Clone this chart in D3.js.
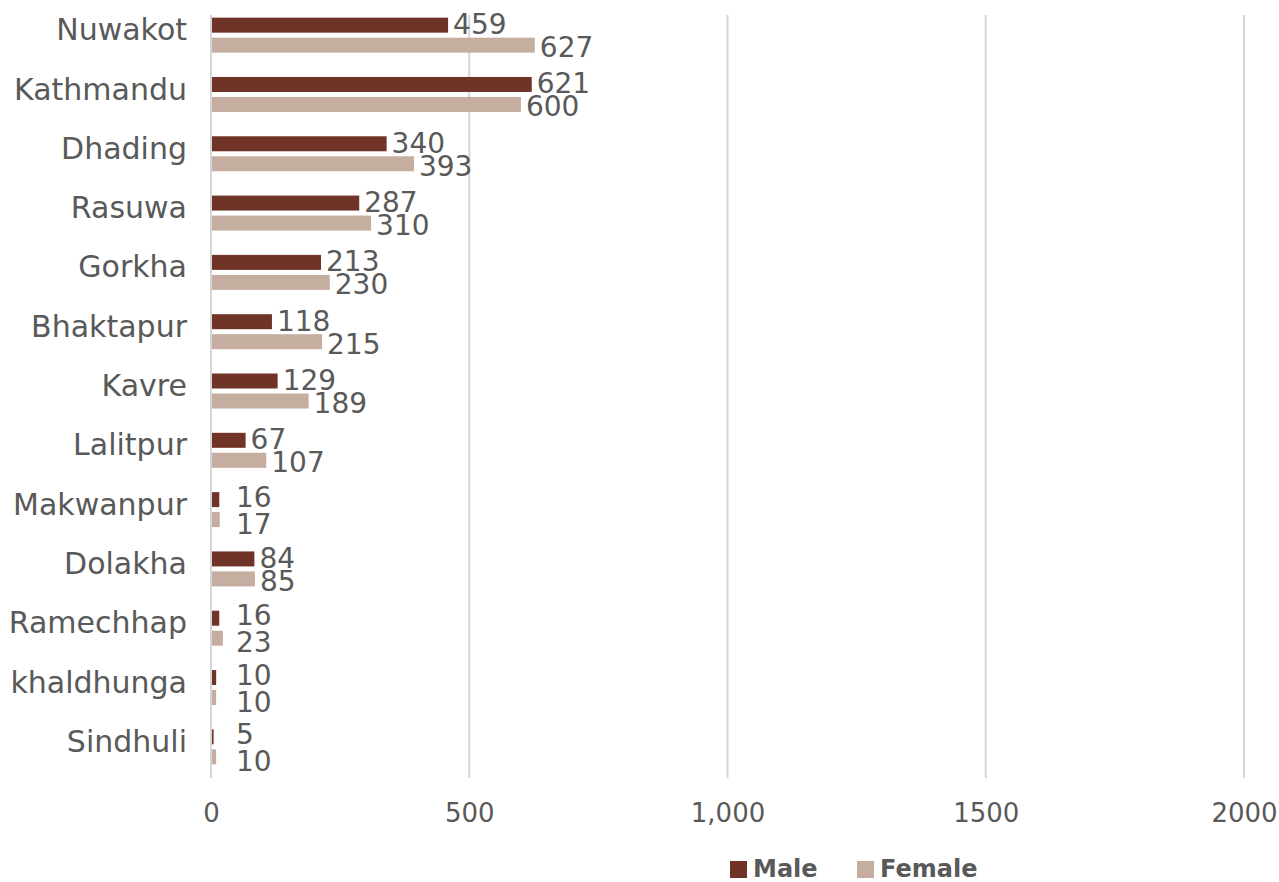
<!DOCTYPE html>
<html>
<head>
<meta charset="utf-8">
<script src="https://cdn.jsdelivr.net/npm/d3@7"></script>
<style>
  html, body { margin: 0; padding: 0; background: #ffffff; }
  svg { display: block; }
</style>
</head>
<body>
<svg id="chart" width="1279" height="882"></svg>
<script>
const categories = ["Nuwakot","Kathmandu","Dhading","Rasuwa","Gorkha","Bhaktapur","Kavre","Lalitpur","Makwanpur","Dolakha","Ramechhap","khaldhunga","Sindhuli"];
const maleValues   = [459, 621, 340, 287, 213, 118, 129, 67, 16, 84, 16, 10, 5];
const femaleValues = [627, 600, 393, 310, 230, 215, 189, 107, 17, 85, 23, 10, 10];
const seriesNames = ["Male", "Female"];
const tickValues = [0, 500, 1000, 1500, 2000];
const tickLabels = ["0", "500", "1,000", "1500", "2000"];

const colors = { Male: "#6f3327", Female: "#c5ae9f" };
const textColor = "#595959";
const gridColor = "#d6d6d6";
const fontFamily = "'DejaVu Sans', sans-serif";

const svg = d3.select("#chart");

const x = d3.scaleLinear().domain([0, 2000]).range([211, 1244]);
const y = d3.scaleBand().domain(categories).range([5.5, 776.5]).paddingInner(0.41).paddingOuter(0.205);
const ySub = d3.scaleBand().domain(seriesNames).range([0, y.bandwidth()]).paddingInner(0.25);

const rows = categories.map((c, i) => ({ cat: c, Male: maleValues[i], Female: femaleValues[i] }));

// gridlines
svg.append("g").selectAll("line").data(tickValues).join("line")
  .attr("x1", d => x(d)).attr("x2", d => x(d))
  .attr("y1", 15).attr("y2", 778)
  .attr("stroke", gridColor).attr("stroke-width", 2);

// bars
const groups = svg.append("g").selectAll("g").data(rows).join("g")
  .attr("transform", d => `translate(0,${y(d.cat)})`);

groups.selectAll("rect").data(d => seriesNames.map(s => ({ s, v: d[s] }))).join("rect")
  .attr("x", x(0) + 1)
  .attr("y", d => ySub(d.s))
  .attr("width", d => Math.max(0, x(d.v) - x(0) - 1))
  .attr("height", ySub.bandwidth())
  .attr("fill", d => colors[d.s]);

// value labels
const minLabelX = x(0) + 25;
groups.selectAll("text").data(d => seriesNames.map(s => ({ s, v: d[s] }))).join("text")
  .attr("x", d => Math.max(x(d.v) + 5, minLabelX))
  .attr("y", d => {
    const small = x(d.v) + 5 < minLabelX;
    const off = d.s === "Male" ? (small ? 7 : 9) : (small ? 14 : 12);
    return ySub(d.s) + ySub.bandwidth() / 2 + off;
  })
  .attr("font-family", fontFamily)
  .attr("font-size", 28)
  .attr("fill", textColor)
  .text(d => d.v);

// category axis labels
const yAxis = d3.axisLeft(y).tickSize(0).tickPadding(0);
const yg = svg.append("g").attr("transform", `translate(187,0)`).call(yAxis);
yg.select(".domain").remove();
yg.selectAll("text")
  .attr("font-family", fontFamily)
  .attr("font-size", 30)
  .attr("fill", textColor)
  .attr("dy", "0.17em");

// x axis tick labels
const xAxis = d3.axisBottom(x).tickValues(tickValues).tickFormat((d, i) => tickLabels[i]).tickSize(0).tickPadding(0);
const xg = svg.append("g").attr("transform", `translate(0,802)`).call(xAxis);
xg.select(".domain").remove();
xg.selectAll("text")
  .attr("font-family", fontFamily)
  .attr("font-size", 26)
  .attr("fill", textColor)
  .attr("dy", "0.75em");

// legend
const legend = svg.append("g").attr("transform", "translate(730,861)");
const legendX = { Male: 0, Female: 127 };
const lg = legend.selectAll("g").data(seriesNames).join("g")
  .attr("transform", d => `translate(${legendX[d]},0)`);
lg.append("rect").attr("x", 0).attr("y", 0).attr("width", 17).attr("height", 17)
  .attr("fill", d => colors[d]);
lg.append("text").attr("x", 23).attr("y", 16)
  .attr("font-family", fontFamily)
  .attr("font-size", 24)
  .attr("font-weight", "bold")
  .attr("fill", textColor)
  .text(d => d);
</script>
</body>
</html>
